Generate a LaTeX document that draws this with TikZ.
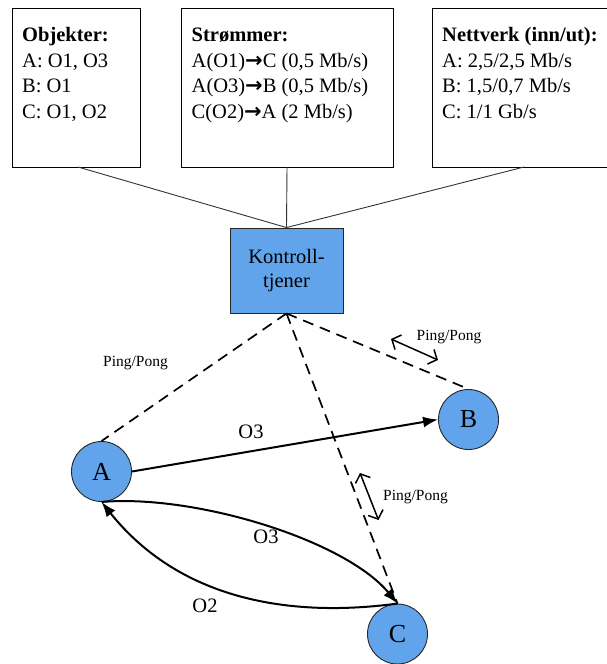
\documentclass[tikz,border=0pt]{standalone}
\usepackage{fontspec}
\setmainfont{Liberation Serif}
\newfontfamily\arrowfont{DejaVu Sans}
\usetikzlibrary{arrows.meta}
\definecolor{nodeblue}{RGB}{98,164,236}
\newcommand{\rarr}{{\arrowfont\bfseries\fontsize{21}{25.5}\selectfont →}}
\begin{document}
\begin{tikzpicture}[x=1pt,y=1pt,
  txt/.style={font=\fontsize{20.5}{25.5}\selectfont,anchor=base west,inner sep=0pt},
  pp/.style={font=\fontsize{15.5}{18}\selectfont,inner sep=0pt},
  circ/.style={circle,draw=black!85,line width=0.9pt,fill=nodeblue,minimum size=60pt,inner sep=0pt,font=\fontsize{26}{30}\selectfont},
  thinline/.style={line width=0.9pt,draw=black!80},
  dashline/.style={line width=1.7pt,dash pattern=on 11pt off 7pt},
  flow/.style={line width=2pt,-{Latex[length=15pt,width=11pt]}},
  pparrow/.style={line width=1.5pt,{Straight Barb[length=7pt,width=16pt]}-{Straight Barb[length=7pt,width=16pt]}},
  lbl/.style={font=\fontsize{20.5}{24}\selectfont,inner sep=0pt}
]
\useasboundingbox (0,0) rectangle (606,-664);
% top boxes
\draw[line width=0.9pt] (12,-8) rectangle (140,-167);
\draw[line width=0.9pt] (181,-8) rectangle (393,-167);
\draw[line width=0.9pt] (432,-8) rectangle (640,-167);
\node[txt] (t1) at (22,-41.7) {\textbf{Objekter:}};
\node[txt] (t1a) at (22,-67) {A: O1, O3};
\node[txt] (t1b) at (22,-92.5) {B: O1};
\node[txt] (t1c) at (22,-118) {C: O1, O2};
\node[txt] (t2) at (191.5,-41.7) {\textbf{Strømmer:}};
\node[txt] (t2a) at (191.5,-67) {A(O1)\rarr C (0,5 Mb/s)};
\node[txt] (t2b) at (191.5,-92.5) {A(O3)\rarr B (0,5 Mb/s)};
\node[txt] (t2c) at (191.5,-118) {C(O2)\rarr A (2 Mb/s)};
\node[txt] (t3) at (442,-41.7) {\textbf{Nettverk (inn/ut):}};
\node[txt] (t3a) at (442,-67) {A: 2,5/2,5 Mb/s};
\node[txt] (t3b) at (442,-92.5) {B: 1,5/0,7 Mb/s};
\node[txt] (t3c) at (442,-118) {C: 1/1 Gb/s};
\coordinate (b1) at (78,-167);
\coordinate (b2) at (287,-167);
\coordinate (b3) at (524,-167);
% control server
\node[draw=black!85,line width=0.9pt,fill=nodeblue,minimum width=113pt,minimum height=85pt,inner sep=0pt,align=center,font=\fontsize{20.5}{23.5}\selectfont] (K) at (286.5,-270.5) {Kontroll-\\tjener};
\draw[thinline] (b1) -- (K.north);
\draw[thinline] (b2) -- (K.north);
\draw[thinline] (b3) -- (K.north);
% clients
\node[circ] (A) at (101.5,-471.5) {A};
\node[circ] (B) at (468.5,-419.5) {B};
\node[circ] (C) at (397.5,-634) {C};
% dashed ping lines
\draw[dashline] (K.south) -- (A.north);
\draw[dashline] (K.south) -- (B.north);
\draw[dashline] (K.south) -- (C.north);
% flows
\draw[flow] (A.east) -- (B.west);
\draw[flow] (A.south) .. controls (195,-494) and (345,-540) .. (C.north);
\draw[flow] (C.north) .. controls (290,-618) and (180,-600) .. (A.south);
\node[lbl] (l1) at (251,-432) {O3};
\node[lbl] (l2) at (266,-537) {O3};
\node[lbl] (l3) at (205,-606) {O2};
% ping pong
\coordinate (p1s) at (391,-339);
\coordinate (p1e) at (438,-360);
\coordinate (p2s) at (360,-473);
\coordinate (p2e) at (378.5,-520);
\draw[pparrow] (p1s) -- (p1e);
\draw[pparrow] (p2s) -- (p2e);
\node[pp] (pp1) at (135.5,-363) {Ping/Pong};
\node[pp] (pp2) at (449,-337) {Ping/Pong};
\node[pp,anchor=west] (pp3) at (383,-497) {Ping/Pong};
\end{tikzpicture}
\end{document}
